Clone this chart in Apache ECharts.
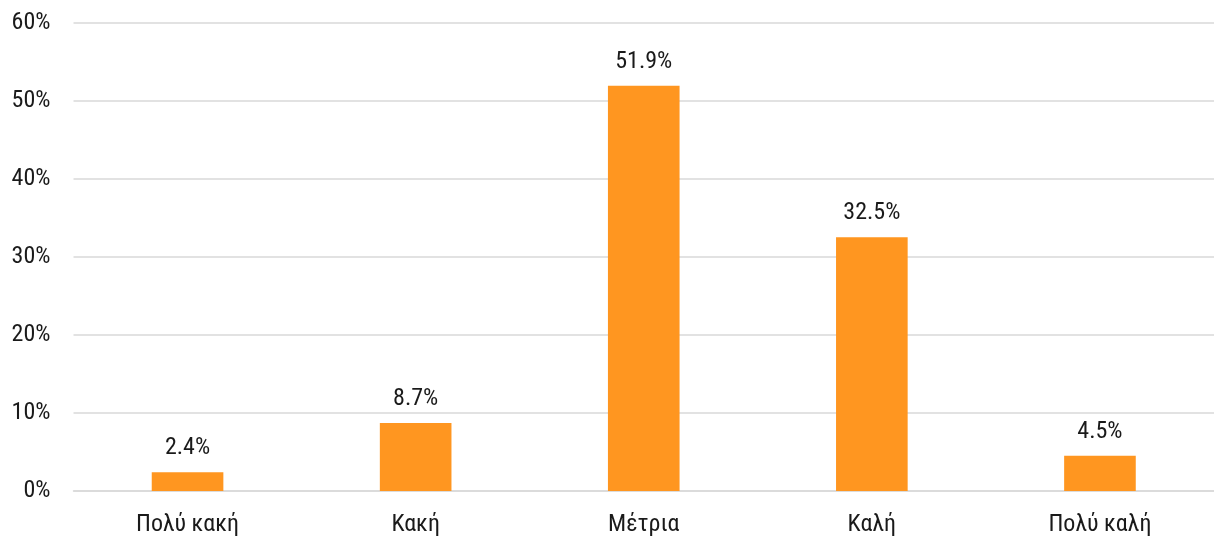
<!DOCTYPE html>
<html><head><meta charset="utf-8">
<script src="https://cdn.jsdelivr.net/npm/echarts@6/dist/echarts.min.js"></script>
<style>html,body{margin:0;padding:0;background:#fff}#c{width:1214px;height:540px}</style>
</head><body><div id="c"></div>
<script>
const categories = ["Πολύ κακή", "Κακή", "Μέτρια", "Καλή", "Πολύ καλή"];
const values = [2.4, 8.7, 51.9, 32.5, 4.5];
const yTicks = [0, 10, 20, 30, 40, 50, 60];

const font = "Roboto Condensed, DejaVu Sans Condensed, Roboto, sans-serif";
const chart = echarts.init(document.getElementById('c'));
chart.setOption({
  animation: false,
  grid: { left: 73.5, right: 0, top: 22.5, bottom: 49, containLabel: false },
  xAxis: {
    type: 'category', data: categories,
    axisLine: { show: true, lineStyle: { color: '#d9d9d9', width: 1.5 } },
    axisTick: { show: false },
    axisLabel: { color: '#1a1a1a', fontSize: 24, fontFamily: font, margin: 22 }
  },
  yAxis: {
    type: 'value', min: yTicks[0], max: yTicks[yTicks.length - 1], interval: 10,
    axisLine: { show: false }, axisTick: { show: false },
    splitLine: { lineStyle: { color: '#d9d9d9', width: 1.5 } },
    axisLabel: { color: '#1a1a1a', fontSize: 24, fontFamily: font, margin: 23, formatter: v => v + '%' }
  },
  series: [{
    type: 'bar', data: values, barWidth: '31.4%',
    itemStyle: { color: '#FF9620' },
    label: { show: true, position: 'top', distance: 12, color: '#1a1a1a', fontSize: 24, fontFamily: font,
      formatter: p => p.value.toFixed(1) + '%' }
  }]
});
</script></body></html>
